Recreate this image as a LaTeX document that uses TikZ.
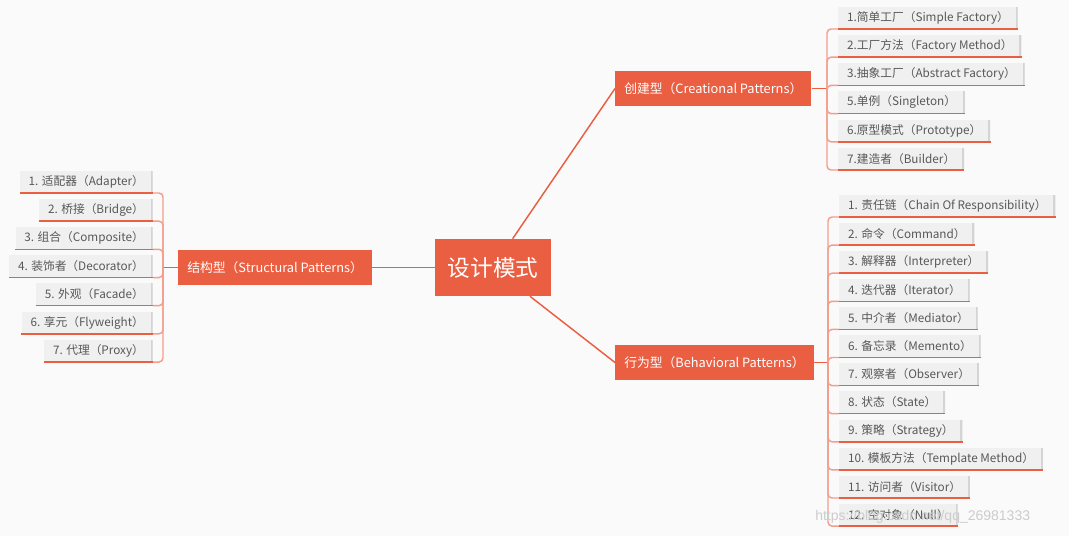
\documentclass[tikz,border=0pt]{standalone}
\usepackage{fontspec}
\setmainfont{Noto Sans CJK SC}
\newfontfamily\wmfont{Liberation Sans}
\usetikzlibrary{calc}
\definecolor{bgcol}{RGB}{250,250,250}
\definecolor{mainred}{RGB}{234,94,66}
\definecolor{leafgray}{RGB}{240,240,240}
\definecolor{leafshadow}{RGB}{212,212,212}
\definecolor{leaftext}{RGB}{88,88,88}
\definecolor{branchcol}{RGB}{243,158,140}

\begin{document}
\begin{tikzpicture}[x=0.75pt,y=-0.75pt,every node/.style={inner sep=0pt},
    topic/.style={fill=mainred,text=white,font=\fontsize{9.6}{12}\selectfont,
      minimum height=26.25pt,inner xsep=6.75pt,anchor=west},
    leaf/.style={fill=leafgray,text=leaftext,font=\fontsize{8.8}{11}\selectfont,
      minimum height=16.5pt,inner xsep=6.6pt,
      path picture={\draw[leafshadow,line width=3pt]
        (path picture bounding box.north east)--(path picture bounding box.south east);}},
    link/.style={mainred,line width=1.1pt},
    branch/.style={branchcol,line width=1.1pt,rounded corners=3pt},
    under/.style={mainred,line width=1.1pt}]
  \fill[bgcol](0,0)rectangle(1069,536);
  % centre and the three groups
  \node[fill=mainred,text=white,font=\fontsize{17}{20}\selectfont,
    minimum width=87pt,minimum height=42.75pt](dm)at(493,267.5){设计模式};
  \node[topic](cr)at(615,88.5){创建型（Creational Patterns）};
  \node[topic](be)at(615,362.5){行为型（Behavioral Patterns）};
  \node[topic](st)at(178,267.5){结构型（Structural Patterns）};
  \draw[link](dm)--(cr.west);
  \draw[link](dm)--(be.west);
  \draw[link](dm.west)--(st.east);
  \coordinate(crj)at(827,88.5);
  \coordinate(bej)at(828,362.5);
  \coordinate(stj)at(163,267.5);
  \draw[link](cr.east)--(crj);
  \draw[link](be.east)--(bej);
  \draw[link](st.west)--(stj);
  % creational
  \foreach \t [count=\i] in
    {1.简单工厂（Simple Factory）,2.工厂方法（Factory Method）,
     3.抽象工厂（Abstract Factory）,5.单例（Singleton）,
     6.原型模式（Prototype）,7.建造者（Builder）}{
    \node[leaf,anchor=south west](cr\i)at({838},{29+(\i-1)*28.2}){\t};
    \draw[branch](crj)|-(cr\i.south west);
    \draw[under](cr\i.south west)--(cr\i.south east);
  }
  % behavioral
  \foreach \t [count=\i] in
    {1. 责任链（Chain Of Responsibility）,2. 命令（Command）,
     3. 解释器（Interpreter）,4. 迭代器（Iterator）,
     5. 中介者（Mediator）,6. 备忘录（Memento）,
     7. 观察者（Observer）,8. 状态（State）,
     9. 策略（Strategy）,10. 模板方法（Template Method）,
     11. 访问者（Visitor）,12. 空对象（Null）}{
    \node[leaf,anchor=south west](be\i)at({839},{217+(\i-1)*28.1}){\t};
    \draw[branch](bej)|-(be\i.south west);
    \draw[under](be\i.south west)--(be\i.south east);
  }
  % structural
  \foreach \t [count=\i] in
    {1. 适配器（Adapter）,2. 桥接（Bridge）,
     3. 组合（Composite）,4. 装饰者（Decorator）,
     5. 外观（Facade）,6. 享元（Flyweight）,
     7. 代理（Proxy）}{
    \node[leaf,anchor=south east](st\i)at({153},{193+(\i-1)*28.17}){\t};
    \draw[branch](stj)|-(st\i.south east);
    \draw[under](st\i.south east)--(st\i.south west);
  }
  \node[font=\wmfont\fontsize{10.5}{12}\selectfont,text=black!20,anchor=west](wm)
    at(815,517){https://blog.csdn.net/qq\_26981333};
\end{tikzpicture}
\end{document}
